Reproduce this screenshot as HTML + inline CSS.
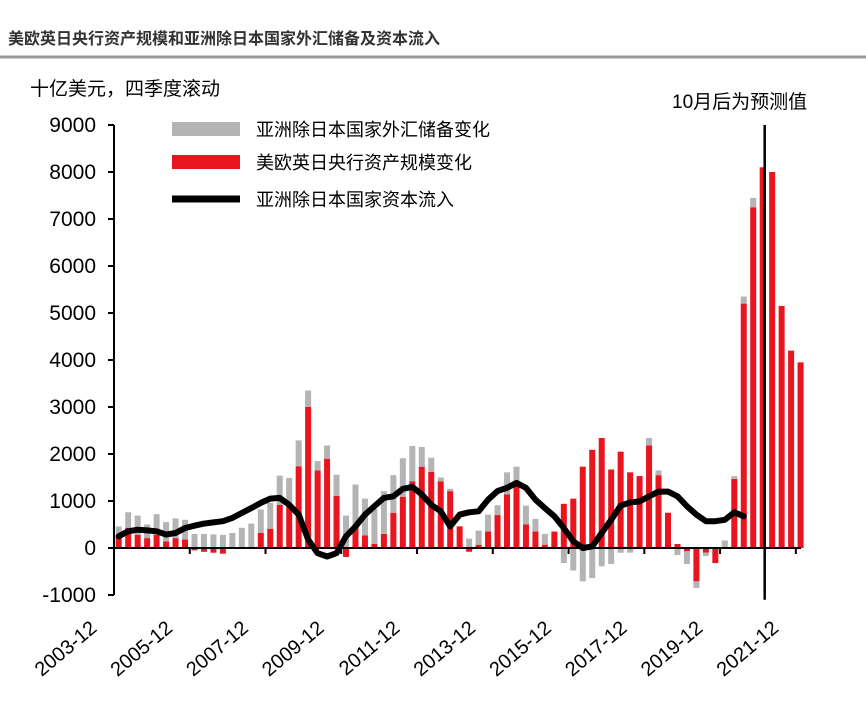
<!DOCTYPE html>
<html><head><meta charset="utf-8">
<style>
body{margin:0;background:#fff;width:866px;height:718px;overflow:hidden;font-family:"Liberation Sans","Noto Sans CJK SC",sans-serif;}
svg text{font-family:"Liberation Sans","Noto Sans CJK SC",sans-serif;}
</style></head><body>
<svg id="chart" width="866" height="718">
<text x="8" y="44" font-size="16" font-weight="bold" fill="#333">美欧英日央行资产规模和亚洲除日本国家外汇储备及资本流入</text>
<line x1="0" y1="57" x2="866" y2="57" stroke="#999" stroke-width="3"/>
<text x="30" y="95" font-size="19" fill="#000">十亿美元，四季度滚动</text>
<text x="672" y="108" font-size="19" fill="#000">10月后为预测值</text>
<g id="legend">
<rect x="172" y="122" width="68" height="14" fill="#b4b4b4"/>
<text x="256" y="136" font-size="18">亚洲除日本国家外汇储备变化</text>
<rect x="172" y="155" width="68" height="14" fill="#e8141e"/>
<text x="256" y="169" font-size="18">美欧英日央行资产规模变化</text>
<line x1="172" y1="199" x2="240" y2="199" stroke="#000" stroke-width="7"/>
<text x="256" y="206" font-size="18">亚洲除日本国家资本流入</text>
</g>
<g id="plot"></g>
</svg>
<script>
const yTicks=[-1000,0,1000,2000,3000,4000,5000,6000,7000,8000,9000];
const xLabels=["2003-12","2005-12","2007-12","2009-12","2011-12","2013-12","2015-12","2017-12","2019-12","2021-12"];
const cbChange=[250,430,280,210,280,140,210,180,-50,-80,-100,-120,0,0,0,320,410,920,920,1740,3000,1650,1900,1110,-190,460,270,90,300,750,1090,1420,1730,1620,1420,1210,460,-80,70,350,700,1140,1310,500,350,70,350,940,1050,1730,2090,2340,1670,2050,1610,1530,2180,1550,750,85,-70,-710,-100,-320,0,1470,5200,7250,8100,8000,5150,4200,3950];
const reserveChange=[210,330,410,290,440,410,420,420,300,300,290,280,320,430,520,500,550,620,570,550,350,200,280,450,690,890,780,740,910,800,820,750,420,300,80,50,0,200,300,360,210,470,420,400,270,230,0,-320,-480,-710,-640,-390,-340,-100,-100,0,160,100,0,-150,-270,-140,-70,0,160,60,150,200,0,0,0,0,0];
const capitalFlow=[250,355,390,375,355,285,320,425,475,520,545,570,640,745,850,960,1050,1065,920,710,180,-110,-180,-110,250,460,710,890,1065,1100,1260,1300,1140,920,780,460,710,760,780,1030,1210,1280,1385,1280,1030,850,675,425,140,0,35,320,600,900,970,990,1100,1200,1200,1100,890,710,570,570,600,760,675];
const forecastIndex=68.5;

const NS="http://www.w3.org/2000/svg";
const g=document.getElementById('plot');
const x0=114,step=9.47,y0=548,pxPer=47/1000;
const y=v=>y0-v*pxPer;
const xc=i=>x0+step*(i+0.5);
function el(t,a){const e=document.createElementNS(NS,t);for(const k in a)e.setAttribute(k,a[k]);g.appendChild(e);return e;}
const ax=el('line',{x1:x0,y1:y(9000),x2:x0,y2:y(-1000),stroke:'#000','stroke-width':2});


yTicks.forEach(v=>{
  const t=el('line',{x1:x0-6,y1:y(v),x2:x0,y2:y(v),stroke:'#000','stroke-width':2});
  
  
  const l=el('text',{x:x0-18,y:y(v)+7,'font-size':21,'text-anchor':'end'});
  l.textContent=v;
  
  
});
cbChange.forEach((r,i)=>{
  const gr=reserveChange[i];const cx=xc(i);const w=6;
  const rb=el('rect',{x:cx-w/2,y:Math.min(y(r),y0),width:w,height:Math.abs(r*pxPer),fill:'#e8141e'});
  
  
  let base=gr>=0?Math.max(r,0):Math.min(r,0);
  const top=base+gr;
  const gb=el('rect',{x:cx-w/2,y:Math.min(y(base),y(top)),width:w,height:Math.abs(gr*pxPer),fill:'#b4b4b4'});
  
  
});
const za=el('line',{x1:x0,y1:y0,x2:801,y2:y0,stroke:'#000','stroke-width':2});


xLabels.forEach((s,k)=>{
  const tx=x0+k*8*step;
  const t=el('line',{x1:tx,y1:y0,x2:tx,y2:y0+6,stroke:'#000','stroke-width':2});
  
  
  const ax2=tx-16, ay=630;
  const l=el('text',{x:ax2,y:ay,'font-size':20,'text-anchor':'end',transform:`rotate(-40 ${ax2} ${ay})`});
  l.textContent=s;
  
  
});
const fx=x0+step*forecastIndex+2;
const fl=el('line',{x1:fx,y1:y(9000),x2:fx,y2:y(-1100),stroke:'#000','stroke-width':2.5});


const pts=capitalFlow.map((v,i)=>xc(i).toFixed(1)+','+y(v).toFixed(1)).join(' ');
const pl=el('polyline',{points:pts,fill:'none',stroke:'#000','stroke-width':6,'stroke-linejoin':'round','stroke-linecap':'round'});


</script>
</body></html>
